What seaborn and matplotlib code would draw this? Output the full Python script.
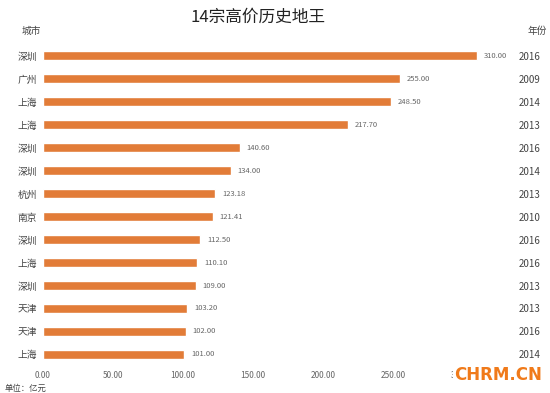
import matplotlib
matplotlib.use("Agg")
import matplotlib.pyplot as plt
import seaborn as sns
import pandas as pd

cities = ['深圳', '广州', '上海', '上海', '深圳', '深圳', '杭州', '南京', '深圳', '上海', '深圳', '天津', '天津', '上海']
prices = [310.00, 255.00, 248.50, 217.70, 140.60, 134.00, 123.18, 121.41, 112.50, 110.10, 109.00, 103.20, 102.00, 101.00]
years = ['2016', '2009', '2014', '2013', '2016', '2014', '2013', '2010', '2016', '2016', '2013', '2013', '2016', '2014']
xticks = [0, 50, 100, 150, 200, 250, 300]

sns.set_theme(style="white")
plt.rcParams['font.family'] = ['Noto Sans CJK SC', 'DejaVu Sans']

df = pd.DataFrame({'row': range(len(cities)), 'city': cities, 'price': prices})

fig = plt.figure(figsize=(5.5, 3.93), dpi=100)
ax = fig.add_axes([0.078, 0.069, 0.84, 0.818])

sns.barplot(data=df, x='price', y='row', orient='h', color='#E27C38',
            width=0.4, saturation=1, ax=ax)

ax.set_xlim(0, 330)
ax.set_xticks(xticks)
ax.set_xticklabels([f'{v:.2f}' for v in xticks], fontsize=6, color='#666666')
ax.set_yticks(range(len(cities)))
ax.set_yticklabels(cities, fontsize=7, color='#444444')
ax.set_xlabel('')
ax.set_ylabel('')
ax.tick_params(axis='both', length=0)
ax.tick_params(axis='x', pad=4)
ax.tick_params(axis='y', pad=4)
for s in ax.spines.values():
    s.set_visible(False)

for i, v in enumerate(prices):
    ax.text(v + 5, i, f'{v:.2f}', va='center', ha='left', fontsize=5.5, color='#666666')

# years on the right
ax2 = ax.twinx()
ax2.set_ylim(ax.get_ylim())
ax2.set_yticks(range(len(years)))
ax2.set_yticklabels(years, fontsize=7, color='#444444')
ax2.tick_params(axis='y', length=0, pad=10)
for s in ax2.spines.values():
    s.set_visible(False)

fig.text(0.47, 0.955, '14宗高价历史地王', ha='center', va='center', fontsize=12, color='#222222')
fig.text(0.04, 0.922, '城市', ha='left', va='center', fontsize=7, color='#444444')
fig.text(0.96, 0.922, '年份', ha='left', va='center', fontsize=7, color='#444444')
fig.text(0.008, 0.0, '单位：亿元', ha='left', va='bottom', fontsize=6, color='#444444')
fig.text(0.985, 0.045, 'CHRM.CN', ha='right', va='center', fontsize=12,
         fontweight='bold', color='#F07A1A', family=['DejaVu Sans'],
         bbox=dict(facecolor='white', edgecolor='none', pad=0.5))

fig.savefig('out.png', dpi=100)
